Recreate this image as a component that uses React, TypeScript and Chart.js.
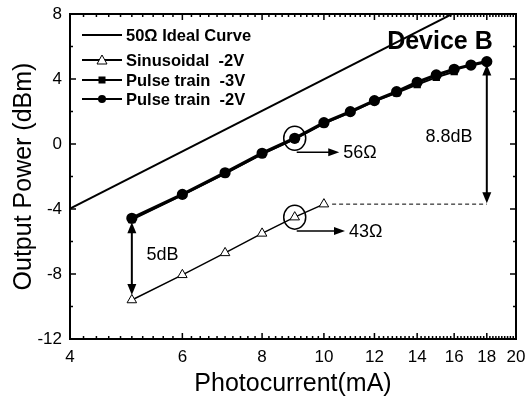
import React, { useEffect, useRef } from 'react';
import { Chart, registerables } from 'chart.js';

Chart.register(...registerables);

// ---- data ----
const xTicks = [4, 6, 8, 10, 12, 14, 16, 18, 20];
const yTicks = [-12, -8, -4, 0, 4, 8];

const idealCurrent = [4, 20];
const idealPower = [-3.98, 10];

const sinCurrent = [5, 6, 7, 8, 9, 10];
const sinPower = [-9.6, -8.05, -6.7, -5.5, -4.5, -3.7];

const p3Current = [5, 6, 7, 8, 9, 10, 11, 12, 13, 14, 15, 16];
const p3Power = [-4.65, -3.15, -1.82, -0.62, 0.3, 1.25, 1.95, 2.62, 3.15, 3.65, 4.1, 4.45];

const p2Current = [5, 6, 7, 8, 9, 10, 11, 12, 13, 14, 15, 16, 17, 18];
const p2Power = [-4.57, -3.1, -1.77, -0.57, 0.35, 1.31, 1.99, 2.67, 3.22, 3.8, 4.25, 4.6, 4.86, 5.07];

const seriesLabels = ['50\u03A9 Ideal Curve', 'Sinusoidal  -2V', 'Pulse train  -3V', 'Pulse train  -2V'];

const FONT = '"Liberation Sans", Arial, sans-serif';

const toXY = (xs: number[], ys: number[]) => xs.map((x, i) => ({ x, y: ys[i] }));

function arrowHead(ctx: CanvasRenderingContext2D, x: number, y: number, dir: 'up' | 'down' | 'right', len = 9, half = 4) {
  ctx.beginPath();
  if (dir === 'up') {
    ctx.moveTo(x, y);
    ctx.lineTo(x - half, y + len);
    ctx.lineTo(x + half, y + len);
  } else if (dir === 'down') {
    ctx.moveTo(x, y);
    ctx.lineTo(x - half, y - len);
    ctx.lineTo(x + half, y - len);
  } else {
    ctx.moveTo(x, y);
    ctx.lineTo(x - len, y - half);
    ctx.lineTo(x - len, y + half);
  }
  ctx.closePath();
  ctx.fill();
}

const framePlugin = {
  id: 'frameTicks',
  afterDraw(chart: any) {
    const { ctx, chartArea: a, scales } = chart;
    const xs = scales.x;
    const ys = scales.y;
    ctx.save();
    ctx.strokeStyle = '#000';
    ctx.lineWidth = 2;
    ctx.strokeRect(a.left, a.top, a.right - a.left, a.bottom - a.top);
    ctx.lineWidth = 1.5;
    ctx.beginPath();
    for (let v = -12; v <= 8; v += 2) {
      const py = ys.getPixelForValue(v);
      const len = yTicks.includes(v) ? 6 : 3;
      ctx.moveTo(a.left, py); ctx.lineTo(a.left + len, py);
      ctx.moveTo(a.right, py); ctx.lineTo(a.right - len, py);
    }
    for (let k = 20; k <= 100; k += 1) {
      const v = k / 5;
      const px = xs.getPixelForValue(v);
      const len = k % 10 === 0 ? 6 : 3;
      ctx.moveTo(px, a.bottom); ctx.lineTo(px, a.bottom - len);
      ctx.moveTo(px, a.top); ctx.lineTo(px, a.top + len);
    }
    ctx.stroke();
    ctx.restore();
  },
};

const legendPlugin = {
  id: 'customLegend',
  afterDatasetsDraw(chart: any) {
    const { ctx, chartArea: a } = chart;
    const rows = [21, 46, 66, 85];
    ctx.save();
    ctx.font = `bold 16.5px ${FONT}`;
    ctx.textBaseline = 'middle';
    ctx.fillStyle = '#000';
    chart.data.datasets.forEach((ds: any, i: number) => {
      const y = a.top + rows[i];
      const x0 = a.left + 12;
      const x1 = a.left + 52;
      ctx.strokeStyle = '#000';
      ctx.lineWidth = 2;
      ctx.beginPath();
      ctx.moveTo(x0, y); ctx.lineTo(x1, y);
      ctx.stroke();
      const cx = (x0 + x1) / 2;
      if (ds.pointStyle === 'triangle') {
        ctx.fillStyle = '#fff';
        ctx.lineWidth = 1;
        ctx.beginPath();
        ctx.moveTo(cx, y - 5); ctx.lineTo(cx - 5, y + 4); ctx.lineTo(cx + 5, y + 4); ctx.closePath();
        ctx.fill(); ctx.stroke();
      } else if (ds.pointStyle === 'rect') {
        ctx.fillStyle = '#000';
        ctx.fillRect(cx - 3.5, y - 3.5, 7, 7);
      } else if (ds.pointStyle === 'circle' && ds.pointRadius > 0) {
        ctx.fillStyle = '#000';
        ctx.beginPath(); ctx.arc(cx, y, 4, 0, Math.PI * 2); ctx.fill();
      }
      ctx.fillStyle = '#000';
      ctx.fillText(ds.label, a.left + 56, y + 1);
    });
    ctx.restore();
  },
};

const annotationPlugin = {
  id: 'annotations',
  afterDatasetsDraw(chart: any) {
    const { ctx, scales } = chart;
    const X = (v: number) => scales.x.getPixelForValue(v);
    const Y = (v: number) => scales.y.getPixelForValue(v);
    ctx.save();
    ctx.strokeStyle = '#000';
    ctx.fillStyle = '#000';

    const circ = [
      { x: 9, y: p2Power[4], ay: -0.5, ax: 10.57, label: '56\u03A9' },
      { x: 9, y: sinPower[4], ay: -5.35, ax: 10.79, label: '43\u03A9' },
    ];
    circ.forEach((c) => {
      const cx = X(c.x), cy = Y(c.y);
      ctx.lineWidth = 1.5;
      ctx.beginPath();
      ctx.ellipse(cx, cy, 11, 12, 0, 0, Math.PI * 2);
      ctx.stroke();
      const ay = Y(c.ay);
      ctx.beginPath();
      ctx.moveTo(cx + 2, ay);
      ctx.lineTo(X(c.ax) - 8, ay);
      ctx.stroke();
      arrowHead(ctx, X(c.ax), ay, 'right', 11, 4);
      ctx.font = `18px ${FONT}`;
      ctx.textBaseline = 'middle';
      ctx.textAlign = 'left';
      ctx.fillText(c.label, X(c.ax) + 4, ay + 1);
    });

    ctx.lineWidth = 1;
    ctx.setLineDash([4, 3]);
    ctx.beginPath();
    ctx.moveTo(X(10.3), Y(sinPower[5]));
    ctx.lineTo(X(18), Y(sinPower[5]));
    ctx.stroke();
    ctx.setLineDash([]);

    const dbl = [
      { x: 18, top: p2Power[13], bot: sinPower[5], gapT: 3, gapB: 1 },
      { x: 5, top: p2Power[0], bot: sinPower[0], gapT: 4, gapB: 5 },
    ];
    dbl.forEach((d) => {
      const px = X(d.x);
      const t = Y(d.top) + d.gapT;
      const b = Y(d.bot) - d.gapB;
      ctx.lineWidth = 2;
      ctx.beginPath();
      ctx.moveTo(px, t + 6); ctx.lineTo(px, b - 6);
      ctx.stroke();
      arrowHead(ctx, px, t, 'up', 11, 4.5);
      arrowHead(ctx, px, b, 'down', 11, 4.5);
    });

    ctx.font = `18px ${FONT}`;
    ctx.textBaseline = 'middle';
    ctx.textAlign = 'center';
    ctx.fillText('8.8dB', X(15.7), Y(0.4));
    ctx.textAlign = 'left';
    ctx.fillText('5dB', X(5.27), Y(-6.85));

    ctx.font = `bold 25px ${FONT}`;
    ctx.textAlign = 'center';
    ctx.fillText('Device B', X(15.2), Y(6.25));
    ctx.restore();
  },
};

export default function App() {
  const ref = useRef<HTMLCanvasElement | null>(null);
  useEffect(() => {
    document.body.style.margin = '0';
    const canvas = ref.current;
    if (!canvas) return;
    const chart = new Chart(canvas, {
      type: 'line',
      data: {
        datasets: [
          {
            label: seriesLabels[0],
            data: toXY(idealCurrent, idealPower),
            borderColor: '#000',
            borderWidth: 2,
            pointRadius: 0,
            pointStyle: 'circle',
            order: 4,
          },
          {
            label: seriesLabels[1],
            data: toXY(sinCurrent, sinPower),
            borderColor: '#000',
            borderWidth: 1.5,
            pointStyle: 'triangle',
            pointRadius: 5.5,
            pointBackgroundColor: '#fff',
            pointBorderColor: '#000',
            pointBorderWidth: 1,
            order: 3,
          },
          {
            label: seriesLabels[2],
            data: toXY(p3Current, p3Power),
            borderColor: '#000',
            borderWidth: 2,
            pointStyle: 'rect',
            pointRadius: 3.8,
            pointBackgroundColor: '#000',
            pointBorderColor: '#000',
            order: 2,
          },
          {
            label: seriesLabels[3],
            data: toXY(p2Current, p2Power),
            borderColor: '#000',
            borderWidth: 3.2,
            pointStyle: 'circle',
            pointRadius: 4,
            pointBackgroundColor: '#000',
            pointBorderColor: '#000',
            order: 1,
          },
        ],
      },
      options: {
        responsive: false,
        animation: false,
        devicePixelRatio: 1,
        layout: { padding: { top: 14, right: 11, left: 0, bottom: 0 } },
        plugins: { legend: { display: false }, tooltip: { enabled: false } },
        scales: {
          x: {
            type: 'logarithmic',
            min: 4,
            max: 20,
            afterBuildTicks: (s: any) => {
              s.ticks = xTicks.map((v) => ({ value: v }));
            },
            afterFit: (s: any) => {
              s.height = 62;
              s.paddingLeft = 0;
              s.paddingRight = 0;
            },
            ticks: {
              autoSkip: false,
              maxRotation: 0,
              color: '#000',
              padding: 8,
              font: { family: FONT, size: 17 },
              callback: (v: any) => String(v),
            },
            grid: { display: false, drawTicks: false },
            border: { display: false },
            title: {
              display: true,
              text: 'Photocurrent(mA)',
              color: '#000',
              font: { family: FONT, size: 25 },
              padding: { top: 0, bottom: 2 },
            },
          },
          y: {
            type: 'linear',
            min: -12,
            max: 8,
            afterBuildTicks: (s: any) => {
              s.ticks = yTicks.map((v) => ({ value: v }));
            },
            afterFit: (s: any) => {
              s.width = 70;
              s.paddingTop = 0;
              s.paddingBottom = 0;
            },
            ticks: {
              color: '#000',
              padding: 8,
              font: { family: FONT, size: 17 },
            },
            grid: { display: false, drawTicks: false },
            border: { display: false },
            title: {
              display: true,
              text: 'Output Power (dBm)',
              color: '#000',
              font: { family: FONT, size: 25 },
              padding: { top: 9, bottom: 0 },
            },
          },
        },
      },
      plugins: [framePlugin, legendPlugin, annotationPlugin],
    } as any);
    return () => chart.destroy();
  }, []);
  return <canvas ref={ref} width={527} height={401} style={{ display: 'block', width: 527, height: 401 }} />;
}
